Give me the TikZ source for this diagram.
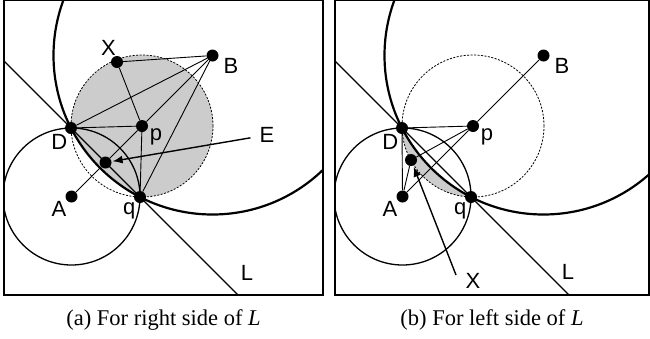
\documentclass[tikz,border=0pt]{standalone}
\usepackage{fontspec}
\setmainfont{Liberation Serif}
\newfontfamily\labelfont{Liberation Sans}
\usetikzlibrary{arrows.meta,positioning,calc,backgrounds}

\begin{document}
\begin{tikzpicture}[
  x=1pt, y=-1pt,
  dot/.style={circle, fill=black, inner sep=0pt, minimum size=12pt},
  lbl/.style={font=\labelfont\fontsize{22}{24}\selectfont, inner sep=0pt},
  edge/.style={line width=0.9pt},
  frame/.style={line width=1.5pt},
  pcirc/.style={line width=0.8pt, dash pattern=on 2pt off 1.5pt},
  bcirc/.style={line width=2.2pt},
  acirc/.style={line width=1.3pt},
  lline/.style={line width=1.4pt},
  arrow/.style={-{Latex[length=10pt,width=8pt]}, line width=1.4pt, shorten >=1pt},
  captext/.style={font=\fontsize{22.5}{24}\selectfont}
]
\useasboundingbox (0,0) rectangle (650,338);

% (a) right side of L
\node[dot, label={[lbl, label distance=1pt]-120:D}] (D) at (71,128) {};
\node[dot, label={[lbl, label distance=1pt]-127:q}] (q) at (140,197) {};
\node[dot, label={[lbl, label distance=1pt]-135:A}] (A) at (71.5,196.5) {};
\node[dot, label={[lbl, label distance=2pt]-20:p}] (p) at (142,126) {};
\node[dot, label={[lbl, label distance=5pt]-15:B}] (B) at (212.5,55.5) {};
\node[dot, label={[lbl, label distance=0pt]100:X}] (X) at (117,62) {};
\node[dot] (E) at (105.5,162.5) {};
\node[lbl, inner xsep=9pt] (Elbl) at (267,135) {E};
\node[lbl] (Llbl) at (247,273) {L};
\draw[arrow] (Elbl) -- (E);
\begin{pgfonlayer}{background}
\begin{scope}
  \clip (4,0) rectangle (323,295);
  \begin{scope}
    \clip (p) circle (71pt);
    \fill[gray!40] (B) circle (159pt);
  \end{scope}
  \draw[pcirc] (p) circle (71pt);
  \draw[acirc] (A) circle (68.5pt);
  \draw[bcirc] (B) circle (159pt);
  \draw[lline] ($(D)!-3!(q)$) -- ($(q)!-3!(D)$);
  \draw[edge] (X) -- (B) (X) -- (p) (D) -- (B) (q) -- (B);
  \draw[edge] (A) -- (E) -- (p) -- (B);
  \draw[edge] (D) -- (p) -- (q);
\end{scope}
\end{pgfonlayer}
\draw[frame] (4,0) rectangle (323,295);
\node[captext] (capa) at (163.5,320) {(a) For right side of \textit{L}};

% (b) left side of L
\node[dot, label={[lbl, label distance=1pt]-120:D}] (D2) at (402,128) {};
\node[dot, label={[lbl, label distance=1pt]-127:q}] (q2) at (471,197) {};
\node[dot, label={[lbl, label distance=1pt]-135:A}] (A2) at (402.5,196.5) {};
\node[dot, label={[lbl, label distance=2pt]-20:p}] (p2) at (473,126) {};
\node[dot, label={[lbl, label distance=5pt]-15:B}] (B2) at (543.5,55.5) {};
\node[dot] (X2) at (411,160) {};
\node[lbl] (X2lbl) at (473,281) {X};
\coordinate (X2tail) at (456,275);
\node[lbl] (L2lbl) at (568,272) {L};
\draw[arrow] (X2tail) -- (X2);
\begin{pgfonlayer}{background}
\begin{scope}
  \clip (335,0) rectangle (649,295);
  \begin{scope}
    \clip (p2) circle (71pt);
    \fill[gray!40, even odd rule] (p2) circle (71pt) (B2) circle (159pt);
  \end{scope}
  \draw[pcirc] (p2) circle (71pt);
  \draw[acirc] (A2) circle (68.5pt);
  \draw[bcirc] (B2) circle (159pt);
  \draw[lline] ($(D2)!-3!(q2)$) -- ($(q2)!-3!(D2)$);
  \draw[edge] (A2) -- (p2) -- (B2);
  \draw[edge] (D2) -- (A2) -- (X2) -- (p2) -- (D2);
\end{scope}
\end{pgfonlayer}
\draw[frame] (335,0) rectangle (649,295);
\node[captext] (capb) at (492,320) {(b) For left side of \textit{L}};
\end{tikzpicture}
\end{document}
